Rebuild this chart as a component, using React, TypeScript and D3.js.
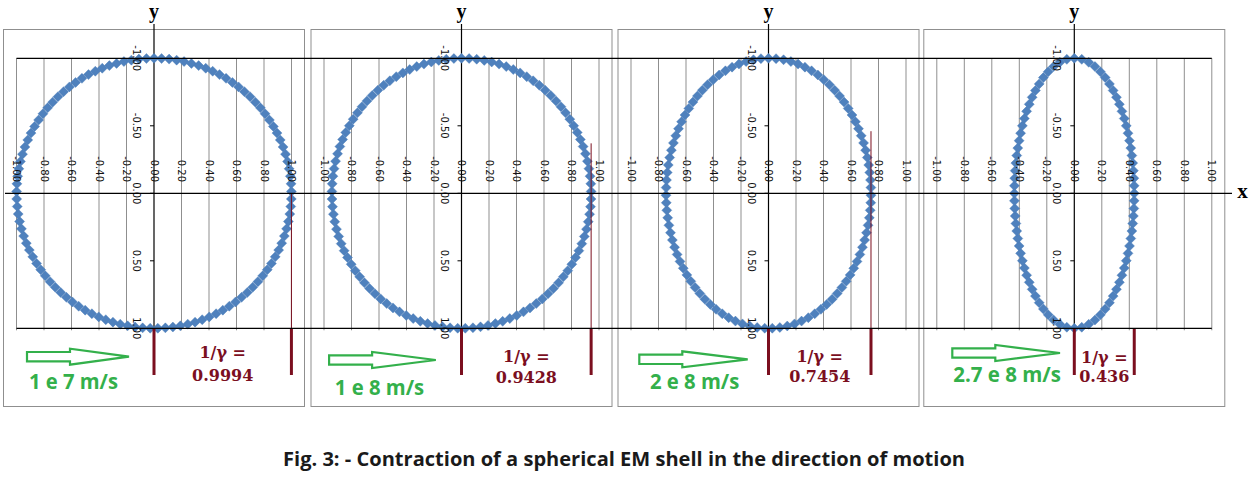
import React from "react";
import * as d3 from "d3";

// ---- data ----
const contraction = [0.9994, 0.9428, 0.7454, 0.436];
const speedLabels = ["1 e 7 m/s", "1 e 8 m/s", "2 e 8 m/s", "2.7 e 8 m/s"];
const gammaLabels = ["0.9994", "0.9428", "0.7454", "0.436"];
const xTicks = [-1, -0.8, -0.6, -0.4, -0.2, 0, 0.2, 0.4, 0.6, 0.8, 1];
const yTicks = [-1, -0.5, 0, 0.5, 1];
const guideTop: (number | null)[] = [0, -0.37, -0.46, null];
const caption = "Fig. 3: - Contraction of a spherical EM shell in the direction of motion";

// ---- layout (pixels) ----
const W = 1250;
const H = 479;
const panelLeft = [3, 310.5, 617.5, 923.3];
const panelW = 301;
const panelTop = 29;
const panelBottom = 406;
const centerOffset = 151;
const halfX = 137.5;
const arrowStart = [24, 18.6, 21.8, 29];
const arrowLen = [102, 106.7, 108.4, 107.7];
const arrowY = [356.7, 360, 359.3, 353];
const speedX = [26, 24.3, 32.5, 30];
const speedBase = [389.3, 395, 389.3, 382.3];
const speedWidth = [89, 89.3, 89.3, 107.7];
const gammaBase1 = [358, 361.7, 361.7, 362.7];
const gammaBase2 = [381, 383.3, 381.7, 382.3];

const yScale = d3.scaleLinear().domain([-1, 1]).range([58.3, 328.3]);
const fmt = (v: number) => d3.format(".2f")(v).replace("\u2212", "-");

const BLUE = "#4f81bd";
const GREEN = "#33b04b";
const MAROON = "#7b0f1f";
const GRID = "#8f8f8f";

function ellipsePoints(xs: d3.ScaleLinear<number, number>, a: number) {
  // sample the ellipse finely in pixel space, then place markers evenly along arc length
  const fine = d3.range(0, 2001).map((i) => {
    const t = -Math.PI / 2 + (i / 2000) * 2 * Math.PI;
    return [xs(a * Math.cos(t)), yScale(Math.sin(t))] as [number, number];
  });
  const cum = [0];
  for (let i = 1; i < fine.length; i++) {
    cum.push(cum[i - 1] + Math.hypot(fine[i][0] - fine[i - 1][0], fine[i][1] - fine[i - 1][1]));
  }
  const total = cum[cum.length - 1];
  const n = Math.round(total / 7.6);
  const out: [number, number][] = [];
  let j = 0;
  for (let k = 0; k < n; k++) {
    const target = (k / n) * total;
    while (j < cum.length - 1 && cum[j + 1] < target) j++;
    const seg = cum[j + 1] - cum[j] || 1;
    const f = (target - cum[j]) / seg;
    out.push([
      fine[j][0] + f * (fine[j + 1][0] - fine[j][0]),
      fine[j][1] + f * (fine[j + 1][1] - fine[j][1]),
    ]);
  }
  return out;
}

const diamond = "M0,-5L5,0L0,5L-5,0Z";

function Panel({ i }: { i: number }) {
  const L = panelLeft[i];
  const cx = L + centerOffset;
  const xs = d3.scaleLinear().domain([-1, 1]).range([cx - halfX, cx + halfX]);
  const a = contraction[i];
  const pts = ellipsePoints(xs, a);
  const ax0 = L + arrowStart[i];
  const ax1 = ax0 + arrowLen[i];
  const axs = ax0 + 43;
  const ay = arrowY[i];
  const arrowPath = `M${ax0},${ay - 4.7}L${axs},${ay - 4.7}L${axs},${ay - 8}L${ax1},${ay}L${axs},${ay + 8}L${axs},${ay + 4.7}L${ax0},${ay + 4.7}Z`;
  const gx = xs(a);
  const midX = (xs(0) + gx) / 2;
  return (
    <g>
      <rect x={L + 0.5} y={panelTop + 0.5} width={panelW} height={panelBottom - panelTop} fill="none" stroke={GRID} strokeWidth={1} />
      {xTicks.filter((v) => v !== 0).map((v) => (
        <line key={"g" + v} x1={xs(v)} x2={xs(v)} y1={yScale(-1)} y2={yScale(1) + 2} stroke={GRID} strokeWidth={1} />
      ))}
      {/* y axis */}
      <line x1={xs(0)} x2={xs(0)} y1={24} y2={yScale(1)} stroke="#000" strokeWidth={1.2} />
      {yTicks.map((v) => (
        <line key={"yt" + v} x1={xs(0) - 4} x2={xs(0)} y1={yScale(v)} y2={yScale(v)} stroke="#000" strokeWidth={1} />
      ))}
      <text x={xs(0)} y={18} textAnchor="middle" fontFamily="'Liberation Serif', serif" fontWeight="bold" fontSize={20} fill="#000">y</text>
      {/* markers */}
      {pts.map((p, k) => (
        <path key={"m" + k} d={diamond} transform={`translate(${p[0]},${p[1]})`} fill={BLUE} stroke="#4a7cb8" strokeWidth={0.4} />
      ))}
      {/* guide lines */}
      {guideTop[i] !== null && (
        <line x1={gx} x2={gx} y1={yScale(guideTop[i] as number)} y2={yScale(1)} stroke={MAROON} strokeWidth={1} />
      )}
      <line x1={xs(0)} x2={xs(0)} y1={yScale(1)} y2={375} stroke={MAROON} strokeWidth={3} />
      <line x1={gx} x2={gx} y1={yScale(1)} y2={375} stroke={MAROON} strokeWidth={3} />
      {/* tick labels */}
      {xTicks.map((v) => (
        <text key={"xl" + v} transform={`translate(${xs(v)},182) rotate(90)`} textAnchor="end" dominantBaseline="central" fontFamily="'DejaVu Sans', sans-serif" fontSize={10} fill="#111">
          {fmt(v)}
        </text>
      ))}
      {yTicks.map((v) => (
        <text key={"yl" + v} transform={`translate(${xs(0) - 17.5},${yScale(v)}) rotate(90)`} textAnchor="middle" dominantBaseline="central" fontFamily="'DejaVu Sans', sans-serif" fontSize={10} fill="#111">
          {fmt(v)}
        </text>
      ))}
      {/* annotation */}
      <path d={arrowPath} fill="#fff" stroke={GREEN} strokeWidth={2.2} strokeLinejoin="miter" />
      <text x={L + speedX[i]} y={speedBase[i]} fontFamily="'Open Sans', sans-serif" fontWeight="bold" fontSize={21} fill={GREEN} textLength={speedWidth[i]} lengthAdjust="spacingAndGlyphs">
        {speedLabels[i]}
      </text>
      <text x={midX} y={gammaBase1[i]} textAnchor="middle" fontFamily="'DejaVu Serif', serif" fontWeight="bold" fontSize={16} fill={MAROON}>
        1/γ =
      </text>
      <text x={midX} y={gammaBase2[i]} textAnchor="middle" fontFamily="'DejaVu Serif', serif" fontWeight="bold" fontSize={16} fill={MAROON}>
        {gammaLabels[i]}
      </text>
    </g>
  );
}

export default function App() {
  const firstXs = d3.scaleLinear().domain([-1, 1]).range([panelLeft[0] + centerOffset - halfX, panelLeft[0] + centerOffset + halfX]);
  const lastXs = d3.scaleLinear().domain([-1, 1]).range([panelLeft[3] + centerOffset - halfX, panelLeft[3] + centerOffset + halfX]);
  return (
    <svg width={W} height={H} style={{ position: "absolute", left: 0, top: 0, background: "#fff" }}>
      <rect width={W} height={H} fill="#fff" />
      {[0, 1, 2, 3].map((i) => (
        <g key={"bg" + i}>
          <Panel i={i} />
        </g>
      ))}
      {/* shared horizontal lines */}
      <line x1={firstXs(-1)} x2={lastXs(1)} y1={yScale(-1)} y2={yScale(-1)} stroke="#000" strokeWidth={1.2} />
      <line x1={firstXs(-1)} x2={lastXs(1)} y1={yScale(1)} y2={yScale(1)} stroke="#000" strokeWidth={1.2} />
      <line x1={5} x2={1232} y1={yScale(0)} y2={yScale(0)} stroke="#000" strokeWidth={1.2} />
      <text x={1242.5} y={198} textAnchor="middle" fontFamily="'Liberation Serif', serif" fontWeight="bold" fontSize={21} fill="#000">x</text>
      <text x={283} y={466} fontFamily="'Open Sans', sans-serif" fontWeight="bold" fontSize={19.5} fill="#1a1a1a" textLength={682} lengthAdjust="spacingAndGlyphs">
        {caption}
      </text>
    </svg>
  );
}
